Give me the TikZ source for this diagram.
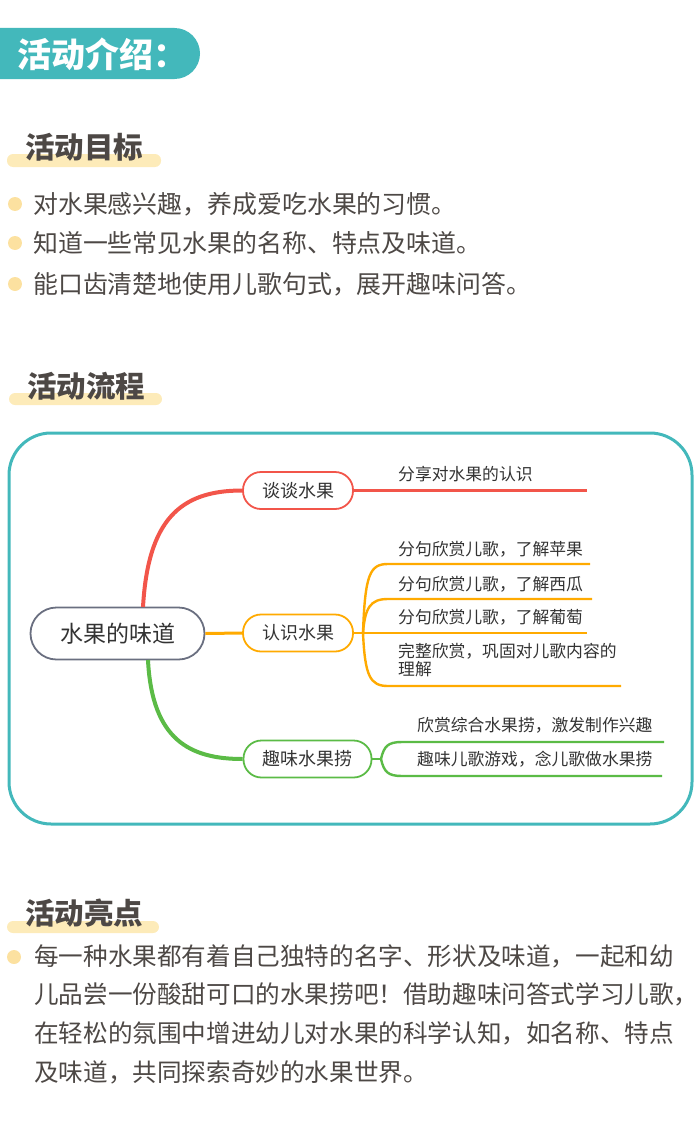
\documentclass[tikz,border=0pt]{standalone}
\usepackage{fontspec}
\setmainfont{Noto Sans CJK SC}
\definecolor{teal}{HTML}{43B8BB}
\definecolor{ybar}{HTML}{FDEBB9}
\definecolor{ybul}{HTML}{FCE1A0}
\definecolor{txtc}{HTML}{4D4845}
\definecolor{mred}{HTML}{F2554A}
\definecolor{morange}{HTML}{FFAA00}
\definecolor{mgreen}{HTML}{5BBB46}
\definecolor{mgray}{HTML}{6A6F80}
\definecolor{mtxt}{HTML}{333333}
\tikzset{
  txt/.style={inner sep=0pt, anchor=west, text=txtc},
  head/.style={inner sep=0pt, anchor=west, text=txtc, font=\fontsize{29.5}{32}\selectfont\bfseries},
  bar/.style={fill=ybar, rounded corners=6pt},
  bul/.style={fill=ybul, circle, inner sep=0pt, minimum size=14pt},
  body/.style={txt, font=\fontsize{24.9}{30}\selectfont},
  mtext/.style={inner sep=0pt, anchor=west, text=mtxt, font=\fontsize{16.8}{18}\selectfont},
  topic/.style={draw, line width=1.8pt, rounded corners=18pt, inner sep=0pt, text=mtxt, font=\fontsize{18}{20}\selectfont, minimum height=37pt},
}
\begin{document}
\begin{tikzpicture}[x=1pt,y=-1pt]
\useasboundingbox (0,0) rectangle (700,1124);
% banner
\fill[teal, rounded corners=25.5pt] (-40,28) rectangle (200,79);
\node[inner sep=0pt, anchor=west, text=white, font=\fontsize{34}{36}\selectfont\bfseries] (banner) at (17,54) {活动介绍：};
% goals
\fill[bar] (7,154) rectangle (161,167);
\node[head] (h1) at (25,147) {活动目标};
\node[bul] (b1) at (15,204) {};
\node[bul] (b2) at (15,243) {};
\node[bul] (b3) at (15,284) {};
\node[body] (t1) at (33,204) {对水果感兴趣，养成爱吃水果的习惯。};
\node[body] (t2) at (33,243) {知道一些常见水果的名称、特点及味道。};
\node[body] (t3) at (33,284) {能口齿清楚地使用儿歌句式，展开趣味问答。};
% process
\fill[bar] (9,393) rectangle (162,405);
\node[head] (h2) at (27,386) {活动流程};
\draw[teal, line width=3pt, rounded corners=42pt] (9,433) rectangle (692,824);
% mindmap
\node[draw=mgray, line width=1.8pt, rounded corners=26pt, minimum width=174pt, minimum height=52pt, inner sep=0pt, text=mtxt, font=\fontsize{23}{25}\selectfont] (root) at (117.5,633.5) {水果的味道};
\node[topic, draw=mred, minimum width=110pt] (n1) at (298,490.5) {谈谈水果};
\node[topic, draw=morange, minimum width=110pt] (n2) at (298,633) {认识水果};
\node[topic, draw=mgreen, minimum width=128pt] (n3) at (307.5,759) {趣味水果捞};
% main branches
\draw[mred, line width=4pt] (143,607) .. controls (148,520) and (180,490.5) .. (n1.west);
\draw[morange, line width=3pt] (root.east) -- (n2.west);
\draw[mgreen, line width=4pt] (148,660) .. controls (152,740) and (190,759) .. (n3.west);
% red leaf
\coordinate (r1) at (587,490.5);
\draw[mred, line width=2.4pt] (n1.east) -- (r1);
\node[mtext] (l1) at (398,474) {分享对水果的认识};
% orange leaves
\coordinate (ob) at (363,633);
\coordinate (o1) at (590,564);
\coordinate (o2) at (592,599);
\coordinate (o3) at (587,633);
\coordinate (o4) at (621,686);
\begin{scope}[morange, line width=2.4pt]
\draw (n2.east) -- (ob);
\draw (ob) .. controls (365,574) and (370,564) .. (388,564) -- (o1);
\draw (ob) .. controls (365,608) and (370,599) .. (388,599) -- (o2);
\draw (ob) -- (o3);
\draw (ob) .. controls (365,676) and (370,686) .. (388,686) -- (o4);
\end{scope}
\node[mtext] (l2) at (398,549.5) {分句欣赏儿歌，了解苹果};
\node[mtext] (l3) at (398,584) {分句欣赏儿歌，了解西瓜};
\node[mtext] (l4) at (398,617.5) {分句欣赏儿歌，了解葡萄};
\node[mtext, align=left, anchor=north west] (l5) at (398,643) {完整欣赏，巩固对儿歌内容的\\理解};
% green leaves
\coordinate (gb) at (381,759);
\coordinate (g1) at (664,742);
\coordinate (g2) at (662,776);
\begin{scope}[mgreen, line width=2.4pt]
\draw (n3.east) -- (gb);
\draw (gb) .. controls (384,746) and (388,742) .. (402,742) -- (g1);
\draw (gb) .. controls (384,772) and (388,776) .. (402,776) -- (g2);
\end{scope}
\node[mtext] (l6) at (417,725.5) {欣赏综合水果捞，激发制作兴趣};
\node[mtext] (l7) at (417,759.5) {趣味儿歌游戏，念儿歌做水果捞};
% highlights
\fill[bar] (7,921) rectangle (159,933);
\node[head] (h3) at (25,913) {活动亮点};
\node[bul] (b4) at (14,957) {};
\node[txt, align=left, anchor=north west, font=\fontsize{24.6}{38.7}\selectfont] (p) at (34,944) {每一种水果都有着自己独特的名字、形状及味道，一起和幼\\儿品尝一份酸甜可口的水果捞吧！借助趣味问答式学习儿歌，\\在轻松的氛围中增进幼儿对水果的科学认知，如名称、特点\\及味道，共同探索奇妙的水果世界。};
\end{tikzpicture}
\end{document}
